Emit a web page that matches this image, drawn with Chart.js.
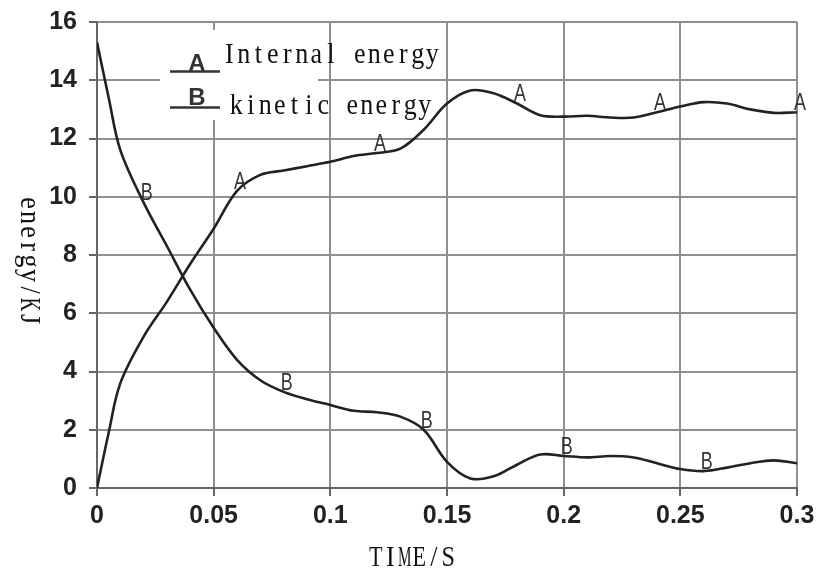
<!DOCTYPE html>
<html>
<head>
<meta charset="utf-8">
<script src="https://cdn.jsdelivr.net/npm/chart.js@4/dist/chart.umd.min.js"></script>
<style>
html,body{margin:0;padding:0;background:#fff;}
#wrap{width:816px;height:569px;position:relative;}
</style>
</head>
<body>
<div id="wrap"><canvas id="energyChart"></canvas></div>
<script>
// time in seconds
const times=[0,0.005,0.01,0.02,0.03,0.04,0.05,0.06,0.07,0.08,0.09,0.1,0.11,0.12,0.13,0.14,0.15,0.16,0.17,0.18,0.19,0.2,0.21,0.22,0.23,0.24,0.25,0.26,0.27,0.28,0.29,0.3];
// curve A, internal energy (kJ)
const internalEnergy=[0,1.9,3.6,5.2,6.4,7.7,8.9,10.2,10.75,10.9,11.05,11.2,11.4,11.5,11.65,12.3,13.2,13.65,13.55,13.2,12.8,12.75,12.78,12.72,12.72,12.9,13.1,13.25,13.2,13.0,12.88,12.9];
// curve B, kinetic energy (kJ)
const kineticEnergy=[15.3,13.4,11.6,9.8,8.3,6.8,5.5,4.4,3.7,3.3,3.05,2.85,2.65,2.6,2.45,2.0,0.9,0.33,0.4,0.8,1.15,1.1,1.05,1.1,1.05,0.85,0.65,0.58,0.7,0.85,0.95,0.85];
// where the letters sit on the curves
const markA=[0.06,0.12,0.18,0.24,0.3];
const markB=[0.02,0.08,0.14,0.2,0.26];

const ink="#222";
const gridCol="#8f8f8f";

// serif glyphs on a fixed pitch, squeezed to fit each cell
function monoText(ctx,txt,x,y,align){
const pitch=14.5;
const w=pitch*txt.length;
let x0=align==="center"?x-w/2:x;
ctx.save();
ctx.font="26px 'Liberation Serif'";
ctx.textAlign="center";
ctx.textBaseline="alphabetic";
for(let k=0;k<txt.length;k++){
const cw=ctx.measureText(txt[k]).width;
const sx=Math.min(1,13.5/cw);
ctx.save();
ctx.translate(x0+pitch*(k+0.5),y);
ctx.scale(sx,1.15);
ctx.fillText(txt[k],0,0);
ctx.restore();
}
ctx.restore();
}

const curveLetters={
id:"curveLetters",
afterDatasetsDraw(c){
const ctx=c.ctx;
ctx.save();
ctx.fillStyle="#333";
ctx.font="23px 'Liberation Sans'";
ctx.textAlign="center";
ctx.textBaseline="bottom";
[[0,markA,"A"],[1,markB,"B"]].forEach(([di,marks,letter])=>{
const pts=c.getDatasetMeta(di).data;
marks.forEach(t=>{
const i=times.indexOf(t);
if(i<0) return;
ctx.save();
ctx.translate(pts[i].x+3,pts[i].y+3);
ctx.scale(0.78,1.0);
ctx.fillText(letter,0,0);
ctx.restore();
});
});
ctx.restore();
}
};

const extras={
id:"extras",
beforeDatasetsDraw(c){
const ctx=c.ctx;
ctx.save();
// legend box
ctx.fillStyle="#fff";
ctx.fillRect(160,30,158,90);
ctx.strokeStyle="#333";
ctx.lineWidth=2.5;
ctx.beginPath();
ctx.moveTo(170,71.5);ctx.lineTo(220,71.5);
ctx.moveTo(170,107.5);ctx.lineTo(220,107.5);
ctx.stroke();
ctx.fillStyle="#333";
ctx.font="bold 24px 'Liberation Sans'";
ctx.textAlign="center";
ctx.textBaseline="alphabetic";
ctx.fillText("A",197,71);
ctx.fillText("B",197,105);
ctx.fillStyle="#111";
monoText(ctx,"Internal energy",222,63);
monoText(ctx,"kinetic energy",229,114);
// axis titles
monoText(ctx,"TIME/S",412,566,"center");
ctx.translate(21,261);
ctx.rotate(Math.PI/2);
monoText(ctx,"energy/KJ",0,0,"center");
ctx.restore();
}
};

new Chart(document.getElementById("energyChart"),{
type:"line",
data:{
datasets:[
{label:"Internal energy",data:times.map((t,i)=>({x:t,y:internalEnergy[i]})),borderColor:ink,borderWidth:2.6,pointRadius:0,tension:0.35,fill:false},
{label:"kinetic energy",data:times.map((t,i)=>({x:t,y:kineticEnergy[i]})),borderColor:ink,borderWidth:2.6,pointRadius:0,tension:0.35,fill:false}
]
},
options:{
responsive:true,
maintainAspectRatio:false,
animation:false,
layout:{padding:{top:22,right:19,left:0,bottom:0}},
plugins:{legend:{display:false},tooltip:{enabled:false}},
scales:{
x:{
type:"linear",min:0,max:0.3,
afterFit:s=>{s.height=81;s.paddingLeft=0;s.paddingRight=0;},
grid:{color:gridCol,lineWidth:2,tickLength:8,tickColor:"#666"},
border:{color:"#666",width:2},
ticks:{stepSize:0.05,color:ink,padding:5,font:{size:25,weight:"bold"},
callback:v=>String(+v.toFixed(2))}
},
y:{
min:0,max:16,
afterFit:s=>{s.width=97;s.paddingTop=0;s.paddingBottom=0;},
grid:{color:gridCol,lineWidth:2,tickLength:8,tickColor:"#666"},
border:{color:"#666",width:2},
ticks:{stepSize:2,color:ink,padding:12,font:{size:25,weight:"bold"}}
}
}
},
plugins:[extras,curveLetters]
});
</script>
</body>
</html>
